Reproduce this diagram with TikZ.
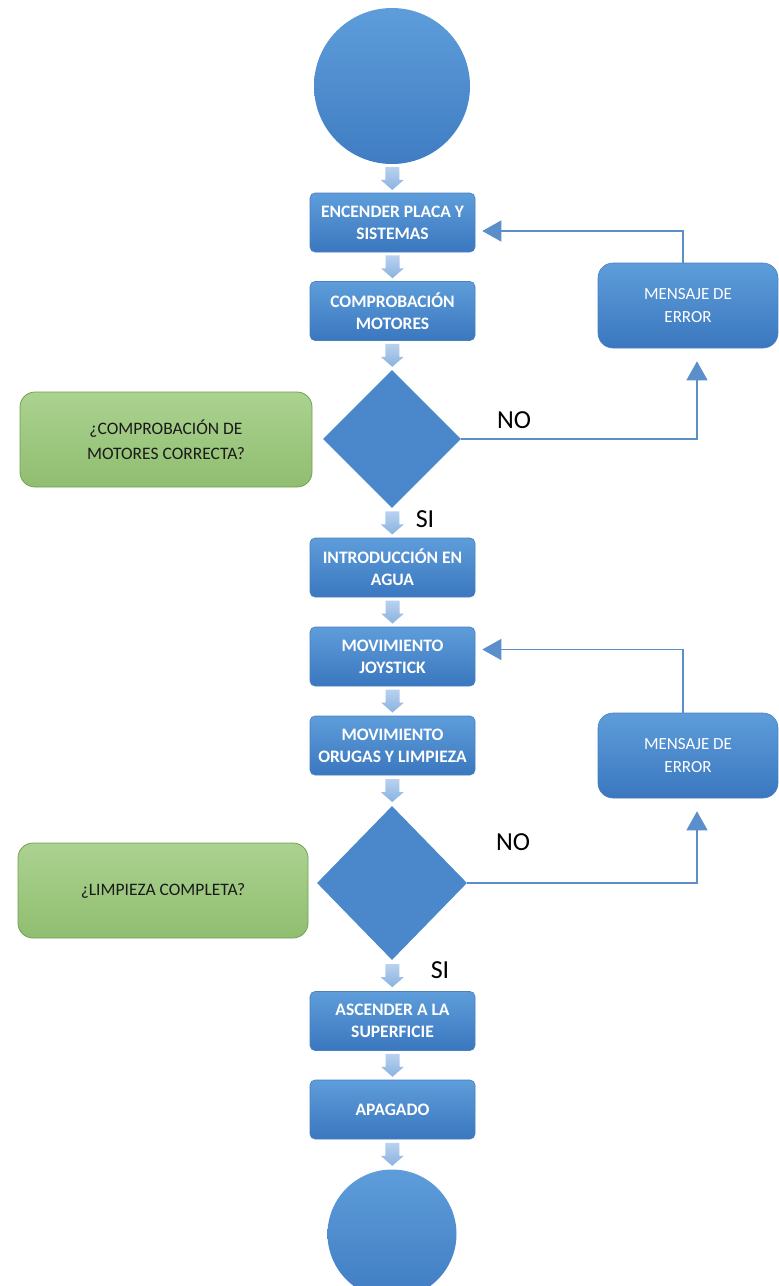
\documentclass[tikz,border=0pt]{standalone}
\usepackage{fontspec}
\setmainfont{Carlito}
\usetikzlibrary{shapes.geometric,calc,arrows.meta}
\definecolor{boxtop}{HTML}{5E9DDA}
\definecolor{boxbot}{HTML}{3A77BF}
\definecolor{boxedge}{HTML}{4A80C0}
\definecolor{diafill}{HTML}{4A88CB}
\definecolor{gtop}{HTML}{ABD290}
\definecolor{gbot}{HTML}{90BE70}
\definecolor{gedge}{HTML}{72A052}
\definecolor{linec}{HTML}{5A8FCB}
\definecolor{atop}{HTML}{B8D2EF}
\definecolor{abot}{HTML}{8AB2E0}
\definecolor{txtdark}{HTML}{1A1A1A}
\newcommand\blockarr[2]{%
  \path[barrowstyle] ($(#1)!0.5!(#2)$) ++(-7,-11.5) -- ++(14,0) -- ++(0,13)
    -- ++(4.5,0) -- ++(-11.5,10) -- ++(-11.5,-10) -- ++(4.5,0) -- cycle;}
\begin{document}
\begin{tikzpicture}[x=1pt,y=-1pt,
  bbox/.style={rectangle, rounded corners=5pt, top color=boxtop, bottom color=boxbot,
    draw=boxedge, line width=0.6pt, minimum width=165pt, minimum height=59pt, inner sep=0pt,
    align=center, text=white, font=\fontsize{17.5}{22}\selectfont\bfseries},
  ebox/.style={rectangle, rounded corners=15pt, top color=boxtop, bottom color=boxbot,
    draw=boxedge, line width=0.6pt, minimum width=180pt, minimum height=85pt, inner sep=0pt,
    align=center, text=white, font=\fontsize{17}{23}\selectfont},
  gbox/.style={rectangle, rounded corners=15pt, top color=gtop, bottom color=gbot,
    draw=gedge, line width=0.8pt, minimum height=95pt, inner sep=0pt,
    align=center, text=txtdark, font=\fontsize{17.5}{25}\selectfont},
  dia/.style={diamond, fill=diafill, draw=none, inner sep=0pt},
  circ/.style={circle, top color=boxtop, bottom color=boxbot!85!boxtop, draw=none, inner sep=0pt},
  lbl/.style={text=black, font=\fontsize{26}{30}\selectfont, inner sep=0pt},
  conn/.style={draw=linec, line width=1.2pt, -{Triangle[length=19pt,width=21pt]}},
  barrowstyle/.style={top color=atop, bottom color=abot, draw=none}
]
\useasboundingbox (0,0) rectangle (779,1286);
\fill[white] (0,0) rectangle (779,1286);

\node[circ, minimum size=156pt] (start) at (392,86) {};
\node[bbox] (b1) at (392.5,222.5) {ENCENDER PLACA Y\\SISTEMAS};
\node[bbox] (b2) at (392.5,311) {COMPROBACIÓN\\MOTORES};
\node[dia, minimum width=138pt, minimum height=138pt] (d1) at (392,439) {};
\node[gbox, minimum width=292pt] (g1) at (166,439.5) {¿COMPROBACIÓN DE\\MOTORES CORRECTA?};
\node[ebox] (e1) at (688,305.5) {MENSAJE DE\\ERROR};
\node[lbl] (no1) at (514,420) {NO};
\node[lbl] (si1) at (425,519) {SI};
\node[bbox] (b3) at (392.5,567.5) {INTRODUCCIÓN EN\\AGUA};
\node[bbox] (b4) at (392.5,656.5) {MOVIMIENTO\\JOYSTICK};
\node[bbox] (b5) at (392.5,745.5) {MOVIMIENTO\\ORUGAS Y LIMPIEZA};
\node[dia, minimum width=150pt, minimum height=154pt] (d2) at (392,883) {};
\node[gbox, minimum width=290pt] (g2) at (163,890.5) {¿LIMPIEZA COMPLETA?};
\node[ebox] (e2) at (688,755.5) {MENSAJE DE\\ERROR};
\node[lbl] (no2) at (513,842) {NO};
\node[lbl] (si2) at (440,970) {SI};
\node[bbox] (b6) at (392.5,1021) {ASCENDER A LA\\SUPERFICIE};
\node[bbox] (b7) at (392.5,1109.5) {APAGADO};
\node[circ, minimum size=129pt] (end) at (392,1234) {};

\blockarr{start.south}{b1.north}
\blockarr{b1.south}{b2.north}
\blockarr{b2.south}{d1.north}
\blockarr{d1.south}{b3.north}
\blockarr{b3.south}{b4.north}
\blockarr{b4.south}{b5.north}
\blockarr{b5.south}{d2.north}
\blockarr{d2.south}{b6.north}
\blockarr{b6.south}{b7.north}
\blockarr{b7.south}{end.north}

\draw[conn, shorten >=7pt] ($(e1.north)+(-5,0)$) |- ($(b1.east)+(0,8.5)$);
\draw[conn, shorten >=13pt] (d1.east) -| ($(e1.south)+(9,0)$);
\draw[conn, shorten >=7pt] ($(e2.north)+(-5,0)$) |- ($(b4.east)+(0,-7)$);
\draw[conn, shorten >=13pt] (d2.east) -| ($(e2.south)+(9,0)$);
\end{tikzpicture}
\end{document}
